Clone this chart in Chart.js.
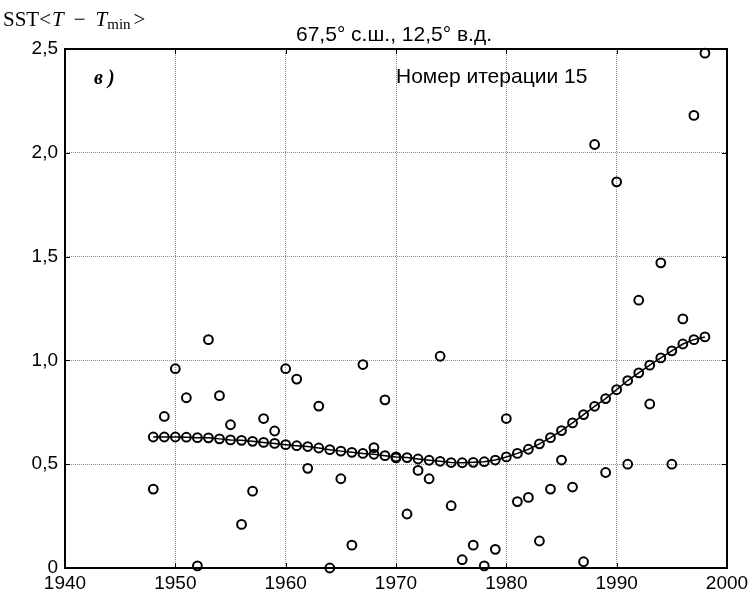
<!DOCTYPE html>
<html>
<head>
<meta charset="utf-8">
<script src="https://cdn.jsdelivr.net/npm/chart.js@4/dist/chart.umd.min.js"></script>
<style>
  html, body { margin: 0; padding: 0; background: #ffffff; }
  #wrap { width: 756px; height: 593px; position: relative; }
</style>
</head>
<body>
<div id="wrap"><canvas id="c"></canvas></div>
<script>
// Years of the SST record
const years = [
  1948, 1949, 1950, 1951, 1952, 1953, 1954, 1955, 1956, 1957,
  1958, 1959, 1960, 1961, 1962, 1963, 1964, 1965, 1966, 1967,
  1968, 1969, 1970, 1971, 1972, 1973, 1974, 1975, 1976, 1977,
  1978, 1979, 1980, 1981, 1982, 1983, 1984, 1985, 1986, 1987,
  1988, 1989, 1990, 1991, 1992, 1993, 1994, 1995, 1996, 1997, 1998
];

// Annual values of <T - Tmin>
const observed = [
  0.38, 0.73, 0.96, 0.82, 0.01, 1.10, 0.83, 0.69, 0.21, 0.37,
  0.72, 0.66, 0.96, 0.91, 0.48, 0.78, 0.00, 0.43, 0.11, 0.98,
  0.58, 0.81, 0.53, 0.26, 0.47, 0.43, 1.02, 0.30, 0.04, 0.11,
  0.01, 0.09, 0.72, 0.32, 0.34, 0.13, 0.38, 0.52, 0.39, 0.03,
  2.04, 0.46, 1.86, 0.50, 1.29, 0.79, 1.47, 0.50, 1.20, 2.18, 2.48
];

// Smoothed trend after 15 iterations
const smoothed = [
  0.631, 0.631, 0.631, 0.630, 0.628, 0.627, 0.622, 0.617, 0.615, 0.610,
  0.605, 0.600, 0.594, 0.589, 0.585, 0.578, 0.570, 0.563, 0.557, 0.552,
  0.548, 0.541, 0.535, 0.532, 0.525, 0.519, 0.514, 0.508, 0.507, 0.509,
  0.512, 0.520, 0.535, 0.552, 0.572, 0.598, 0.628, 0.662, 0.699, 0.739,
  0.779, 0.816, 0.859, 0.903, 0.940, 0.977, 1.012, 1.046, 1.079, 1.100, 1.113
];

const xTicks = [1940, 1950, 1960, 1970, 1980, 1990, 2000];
const yTicks = [0, 0.5, 1.0, 1.5, 2.0, 2.5];
const yTickLabels = ['0', '0,5', '1,0', '1,5', '2,0', '2,5'];

const titleText = '67,5° с.ш., 12,5° в.д.';
const noteText = 'Номер итерации 15';
const panelText = 'в )';

const SANS = '"Liberation Sans", Arial, Helvetica, sans-serif';
const SERIF = '"Liberation Serif", "Times New Roman", serif';

const obsPoints = years.map((y, i) => ({ x: y, y: observed[i] }));
const smoothPoints = years.map((y, i) => ({ x: y, y: smoothed[i] }));

// Frame, inward tick marks and annotations
const decorations = {
  id: 'decorations',
  beforeDraw(chart) {
    const ctx = chart.ctx;
    ctx.save();
    ctx.fillStyle = '#ffffff';
    ctx.fillRect(0, 0, chart.width, chart.height);
    ctx.restore();
  },
  afterDraw(chart) {
    const ctx = chart.ctx;
    const a = chart.chartArea;
    const xs = chart.scales.x, ys = chart.scales.y;
    ctx.save();

    // inward ticks
    ctx.strokeStyle = '#000';
    ctx.lineWidth = 1;
    const tl = 5;
    ctx.beginPath();
    xTicks.forEach(v => {
      const px = Math.round(xs.getPixelForValue(v)) + 0.5;
      ctx.moveTo(px, a.bottom); ctx.lineTo(px, a.bottom - tl);
      ctx.moveTo(px, a.top); ctx.lineTo(px, a.top + tl);
    });
    yTicks.forEach(v => {
      const py = Math.round(ys.getPixelForValue(v)) + 0.5;
      ctx.moveTo(a.left, py); ctx.lineTo(a.left + tl, py);
      ctx.moveTo(a.right, py); ctx.lineTo(a.right - tl, py);
    });
    ctx.stroke();

    // frame
    ctx.lineWidth = 2;
    ctx.strokeRect(a.left, a.top, a.right - a.left, a.bottom - a.top);

    // title
    ctx.fillStyle = '#000';
    ctx.font = '21px ' + SANS;
    ctx.textAlign = 'center';
    ctx.textBaseline = 'alphabetic';
    ctx.fillText(titleText, 394, 41);

    // iteration note
    ctx.textAlign = 'left';
    ctx.font = '21px ' + SANS;
    ctx.fillText(noteText, 396, 83);

    // panel letter
    ctx.font = 'italic bold 20px ' + SERIF;
    ctx.fillText(panelText, 94, 84);

    // y-axis quantity label: SST<T − Tmin>
    let x = 3;
    const base = 26;
    const piece = (txt, font, dy, gapAfter) => {
      ctx.font = font;
      ctx.fillText(txt, x, base + (dy || 0));
      x += ctx.measureText(txt).width + (gapAfter || 0);
    };
    piece('SST', '21px ' + SERIF, 0, 0);
    piece('<', '21px ' + SERIF, 0, 1);
    piece('T', 'italic 21px ' + SERIF, 0, 10);
    piece('−', '21px ' + SERIF, 0, 10);
    piece('T', 'italic 21px ' + SERIF, 0, 0);
    piece('min', '15px ' + SERIF, 3, 3);
    piece('>', '21px ' + SERIF, 0, 0);

    ctx.restore();
  }
};

new Chart(document.getElementById('c'), {
  type: 'scatter',
  data: {
    datasets: [
      {
        label: 'smoothed',
        data: smoothPoints,
        showLine: true,
        borderColor: '#000',
        borderWidth: 1.5,
        pointStyle: 'circle',
        pointRadius: 4.4,
        pointBorderWidth: 2,
        pointBorderColor: '#000',
        pointBackgroundColor: 'rgba(0,0,0,0)',
        clip: false
      },
      {
        label: 'observed',
        data: obsPoints,
        showLine: false,
        pointStyle: 'circle',
        pointRadius: 4.4,
        pointBorderWidth: 2,
        pointBorderColor: '#000',
        pointBackgroundColor: 'rgba(0,0,0,0)',
        clip: false
      }
    ]
  },
  options: {
    responsive: true,
    maintainAspectRatio: false,
    animation: false,
    devicePixelRatio: 1,
    layout: { padding: { top: 49, right: 29, left: 0, bottom: 0 } },
    plugins: {
      legend: { display: false },
      title: { display: false },
      tooltip: { enabled: false }
    },
    scales: {
      x: {
        type: 'linear',
        min: 1940,
        max: 2000,
        afterBuildTicks(scale) { scale.ticks = xTicks.map(v => ({ value: v })); },
        afterFit(scale) { scale.height = 25; },
        grid: { color: '#8c8c8c', lineWidth: 1, drawTicks: false },
        border: { display: false, dash: [1, 1] },
        ticks: {
          color: '#000',
          font: { family: SANS, size: 19 },
          padding: 4,
          maxRotation: 0,
          autoSkip: false,
          callback: v => String(v)
        }
      },
      y: {
        type: 'linear',
        min: 0,
        max: 2.5,
        afterBuildTicks(scale) { scale.ticks = yTicks.map(v => ({ value: v })); },
        afterFit(scale) { scale.width = 65; },
        grid: { color: '#8c8c8c', lineWidth: 1, drawTicks: false },
        border: { display: false, dash: [1, 1] },
        ticks: {
          color: '#000',
          font: { family: SANS, size: 19 },
          padding: 7,
          autoSkip: false,
          callback: v => yTickLabels[yTicks.indexOf(v)]
        }
      }
    }
  },
  plugins: [decorations]
});
</script>
</body>
</html>
